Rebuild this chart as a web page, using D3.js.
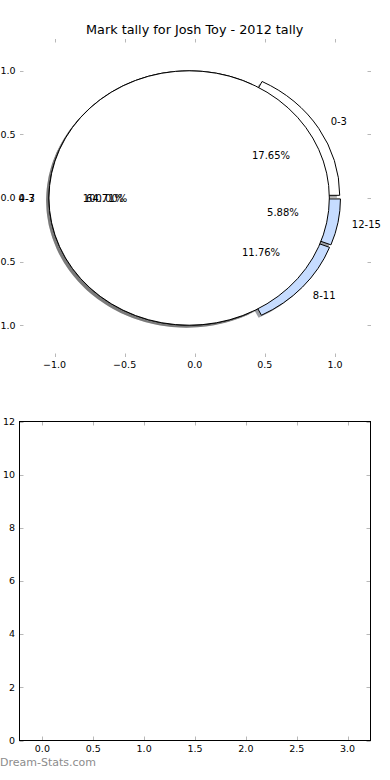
<!DOCTYPE html>
<html>
<head>
<meta charset="utf-8">
<script src="https://cdn.jsdelivr.net/npm/d3@7"></script>
<style>
  body { margin: 0; background: white; }
  svg { display: block; font-family: "DejaVu Sans", sans-serif; }
</style>
</head>
<body>
<div id="container"></div>
<script>
let w = 390;
let h = 780;

// pie data (slices go counter-clockwise from 3 o'clock, like matplotlib)
let categories = ["0-3", "4-7", "8-11", "12-15"];
let counts = [3, 11, 2, 1];
let sliceColors = ["#ffffff", "#ffffff", "#c6dcff", "#c6dcff"];
let explode = [0.04, 0.04, 0.04, 0.04];

// the second one-slice pie drawn on top of the first
let overlayCategories = ["0-3"];
let overlayCounts = [1];
let overlayColors = ["#ffffff"];
let overlayExplode = [0.04];

let pieTicks = [-1, -0.5, 0, 0.5, 1];
let barXTicks = [0, 0.5, 1, 1.5, 2, 2.5, 3];
let barYTicks = [0, 2, 4, 6, 8, 10, 12];

let title = "Mark tally for Josh Toy - 2012 tally";
let tickGray = "#b8b8b8";

let viz = d3.select("#container")
  .append("svg")
    .attr("width", w)
    .attr("height", h);

// ---------- top axes: pie ----------
let px = d3.scaleLinear().domain([-1.25, 1.25]).range([19.5, 370]);
let py = d3.scaleLinear().domain([-1.25, 1.25]).range([357, 39]);
let kx = px(1) - px(0);
let ky = py(0) - py(1);

viz.append("text")
  .attr("x", (px(-1.25) + px(1.25)) / 2)
  .attr("y", 34)
  .attr("text-anchor", "middle")
  .style("font-size", "12.8px")
  .text(title);

// ticks, no spines
let pieTickG = viz.append("g").attr("stroke", tickGray).attr("stroke-width", 1);
pieTicks.forEach(function(t){
  let x = Math.round(px(t)) + 0.5;
  pieTickG.append("line").attr("x1", x).attr("x2", x).attr("y1", 39).attr("y2", 42.5);
  pieTickG.append("line").attr("x1", x).attr("x2", x).attr("y1", 357).attr("y2", 353.5);
  let y = Math.round(py(t)) + 0.5;
  pieTickG.append("line").attr("x1", 20).attr("x2", 23.5).attr("y1", y).attr("y2", y);
  pieTickG.append("line").attr("x1", 371).attr("x2", 367.5).attr("y1", y).attr("y2", y);
});

let fmt = d3.format(".1f");
viz.append("g").selectAll("text").data(pieTicks).enter()
  .append("text")
    .attr("x", function(d){ return px(d); })
    .attr("y", 368)
    .attr("text-anchor", "middle")
    .style("font-size", "9.5px")
    .text(fmt);
viz.append("g").selectAll("text").data(pieTicks).enter()
  .append("text")
    .attr("x", 15.5)
    .attr("y", function(d){ return py(d); })
    .attr("dy", "0.35em")
    .attr("text-anchor", "end")
    .style("font-size", "9.5px")
    .text(fmt);

// pie layout: start at 3 o'clock, go counter-clockwise
let pie = d3.pie().sort(null)
  .startAngle(Math.PI / 2)
  .endAngle(Math.PI / 2 - 2 * Math.PI);
let arc = d3.arc().innerRadius(0).outerRadius(1);

function buildSlices(names, values, colors, ex){
  return pie(values).map(function(s, i){
    let a = (s.startAngle + s.endAngle) / 2;
    return {
      arc: s,
      name: names[i],
      color: colors[i],
      pct: d3.format(".2f")(s.value / d3.sum(values) * 100) + "%",
      // direction in data coords
      dx: Math.sin(a),
      dy: Math.cos(a),
      e: ex[i]
    };
  });
}

let slices = buildSlices(categories, counts, sliceColors, explode);
let overlay = buildSlices(overlayCategories, overlayCounts, overlayColors, overlayExplode);
let allSlices = slices.concat(overlay);

let pieG = viz.append("g")
  .attr("transform", "translate(" + px(0) + "," + py(0) + ") scale(" + kx + "," + ky + ")");

function shiftOf(d, ox, oy){
  // local coords have y pointing down
  return "translate(" + (d.e * d.dx + ox) + "," + (-(d.e * d.dy) - oy) + ")";
}

function shadowColor(c){
  let r = d3.rgb(c);
  return d3.rgb(r.r * 0.3, r.g * 0.3, r.b * 0.3).toString();
}

// shadows below every wedge
pieG.selectAll(".shadow").data(allSlices).enter()
  .append("path")
    .attr("class", "shadow")
    .attr("d", function(d){ return arc(d.arc); })
    .attr("transform", function(d){ return shiftOf(d, -0.02, -0.02); })
    .attr("fill", function(d){ return shadowColor(d.color); })
    .attr("fill-opacity", 0.5)
    .attr("stroke", "none");

pieG.selectAll(".wedge").data(allSlices).enter()
  .append("path")
    .attr("class", "wedge")
    .attr("d", function(d){ return arc(d.arc); })
    .attr("transform", function(d){ return shiftOf(d, 0, 0); })
    .attr("fill", function(d){ return d.color; })
    .attr("stroke", "black")
    .attr("stroke-width", 1)
    .attr("vector-effect", "non-scaling-stroke");

let labelG = viz.append("g").style("font-size", "10px");
allSlices.forEach(function(d){
  let lx = (d.e + 1.1) * d.dx;
  let ly = (d.e + 1.1) * d.dy;
  labelG.append("text")
    .attr("x", px(lx))
    .attr("y", py(ly))
    .attr("dy", "0.35em")
    .attr("text-anchor", lx > 0 ? "start" : "end")
    .text(d.name);
  labelG.append("text")
    .attr("x", px((d.e + 0.6) * d.dx))
    .attr("y", py((d.e + 0.6) * d.dy))
    .attr("dy", "0.35em")
    .attr("text-anchor", "middle")
    .text(d.pct);
});

// ---------- bottom axes: empty ----------
let bx = d3.scaleLinear().domain([-0.225, 3.225]).range([19.5, 370.5]);
let by = d3.scaleLinear().domain([0, 12]).range([740.5, 421.5]);

let bTickG = viz.append("g").attr("stroke", tickGray).attr("stroke-width", 1);
barXTicks.forEach(function(t){
  let x = Math.round(bx(t)) + 0.5;
  bTickG.append("line").attr("x1", x).attr("x2", x).attr("y1", 740.5).attr("y2", 736.5);
  bTickG.append("line").attr("x1", x).attr("x2", x).attr("y1", 421.5).attr("y2", 425.5);
});
barYTicks.forEach(function(t){
  let y = Math.round(by(t)) + 0.5;
  bTickG.append("line").attr("x1", 19.5).attr("x2", 23.5).attr("y1", y).attr("y2", y);
  bTickG.append("line").attr("x1", 370.5).attr("x2", 366.5).attr("y1", y).attr("y2", y);
});

viz.append("rect")
  .attr("x", bx(-0.225))
  .attr("y", by(12))
  .attr("width", bx(3.225) - bx(-0.225))
  .attr("height", by(0) - by(12))
  .attr("fill", "none")
  .attr("stroke", "black")
  .attr("stroke-width", 1);

viz.append("g").selectAll("text").data(barXTicks).enter()
  .append("text")
    .attr("x", function(d){ return bx(d); })
    .attr("y", 752)
    .attr("text-anchor", "middle")
    .style("font-size", "9.5px")
    .text(fmt);
viz.append("g").selectAll("text").data(barYTicks).enter()
  .append("text")
    .attr("x", 15)
    .attr("y", function(d){ return by(d); })
    .attr("dy", "0.35em")
    .attr("text-anchor", "end")
    .style("font-size", "9.5px")
    .text(function(d){ return d; });

// watermark
viz.append("text")
  .attr("x", 0)
  .attr("y", 766)
  .attr("fill", "#8c8c8c")
  .style("font-size", "11px")
  .text("Dream-Stats.com");
</script>
</body>
</html>
